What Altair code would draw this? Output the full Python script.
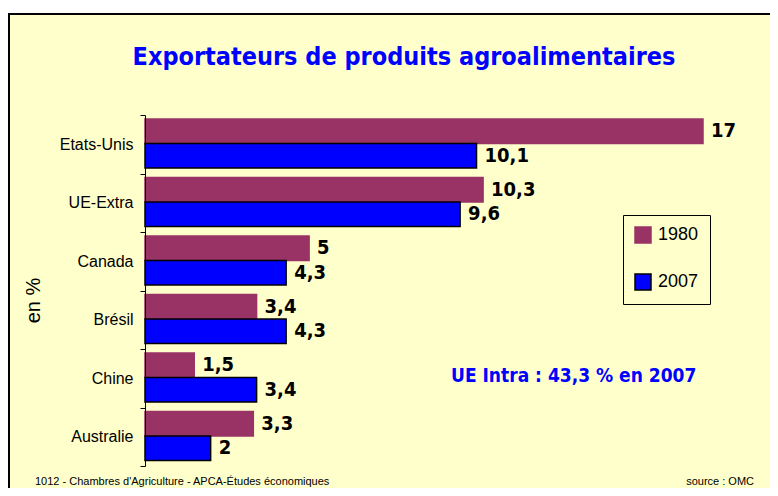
import altair as alt
import pandas as pd

countries = ["Etats-Unis", "UE-Extra", "Canada", "Brésil", "Chine", "Australie"]
years = ["1980", "2007"]
values_1980 = [17, 10.3, 5, 3.4, 1.5, 3.3]
values_2007 = [10.1, 9.6, 4.3, 4.3, 3.4, 2]
colors = ["#993366", "#0000FF"]
strokes = ["#993366", "#000000"]

title_text = "Exportateurs de produits agroalimentaires"
note_text = "UE Intra : 43,3  % en 2007"
footer_left = "1012 - Chambres d'Agriculture - APCA-Études économiques"
footer_right = "source : OMC"
y_title = "en %"

rows = []
for c, a, b in zip(countries, values_1980, values_2007):
    for yr, v in ((years[0], a), (years[1], b)):
        rows.append({"pays": c, "annee": yr, "valeur": v,
                     "label": (f"{v:g}").replace(".", ",")})
df = pd.DataFrame(rows)

NARROW = "'DejaVu Sans Condensed', 'Liberation Sans Narrow', 'Liberation Sans', sans-serif"
SANS = "Liberation Sans"

y_enc = alt.Y("pays:N", sort=countries,
              scale=alt.Scale(paddingInner=0, paddingOuter=0),
              axis=alt.Axis(title=y_title, titleAngle=-90, titleX=-112, titleY=185,
                            titleBaseline="middle", titleAlign="center",
                            titleFont=SANS, titleFontSize=20, titleFontWeight="normal",
                            titleColor="black", labelFont=SANS, labelFontSize=16,
                            labelColor="black", labelPadding=7, tickBand="extent",
                            tickSize=5, tickColor="black", domainColor="black",
                            domainWidth=1, tickWidth=1, grid=False, zindex=1))
yoff_enc = alt.YOffset("annee:N", scale=alt.Scale(domain=years, paddingInner=0,
                                                   paddingOuter=0.19, align=0.42))
x_enc = alt.X("valeur:Q", scale=alt.Scale(domain=[0, 17], nice=False), axis=None)

one = alt.Data(values=[{}])
frame = alt.Chart(one).mark_rect(fill="#FFFFCC").encode(
    x=alt.value(-137), x2=alt.value(625), y=alt.value(-102), y2=alt.value(373))
border_top = alt.Chart(one).mark_rule(color="black", strokeWidth=2).encode(
    x=alt.value(-137), x2=alt.value(625), y=alt.value(-101))
border_left = alt.Chart(one).mark_rule(color="black", strokeWidth=2).encode(
    x=alt.value(-136), y=alt.value(-102), y2=alt.value(373))

bars = alt.Chart(df).mark_bar(strokeWidth=1.5).encode(
    x=x_enc, y=y_enc, yOffset=yoff_enc,
    fill=alt.Fill("annee:N", scale=alt.Scale(domain=years, range=colors),
                  legend=alt.Legend(title=None, orient="none", legendX=478, legendY=100,
                                    strokeColor="black", padding=11, symbolType="square",
                                    symbolSize=256, symbolStrokeWidth=1.5,
                                    labelFont=SANS, labelFontSize=18, labelColor="black",
                                    rowPadding=25, labelOffset=6)),
    stroke=alt.Stroke("annee:N", scale=alt.Scale(domain=years, range=strokes)),
)

labels = alt.Chart(df).mark_text(
    align="left", baseline="middle", dx=8, font=NARROW, fontWeight="bold",
    fontSize=20, color="black"
).encode(x=x_enc, y=alt.Y("pays:N", sort=countries), yOffset=alt.YOffset("annee:N"),
         text="label:N")

def txt(t, x, y, **kw):
    return alt.Chart(alt.Data(values=[{"t": t}])).mark_text(**kw).encode(
        x=alt.value(x), y=alt.value(y), text="t:N")

title = txt(title_text, 259, -50, align="center", baseline="alphabetic", font=NARROW,
            fontWeight="bold", fontSize=25, color="#0000FF")
note = txt(note_text, 306, 267, align="left", baseline="alphabetic", font=NARROW,
           fontWeight="bold", fontSize=19, color="#0000FF")
foot_l = txt(footer_left, -110, 370, align="left", baseline="alphabetic", font=SANS,
             fontSize=11, color="black")
foot_r = txt(footer_right, 609, 370, align="right", baseline="alphabetic", font=SANS,
             fontSize=11, color="black")

chart = alt.layer(frame, border_top, border_left, bars, labels, title, note,
                  foot_l, foot_r).properties(
    width=558, height=351,
    autosize=alt.AutoSizeParams(type="none"),
    padding={"left": 137, "top": 107, "right": 67, "bottom": 22},
    background="white",
).configure_view(stroke=None)

chart.save("out.html", embed_options={"renderer": "svg", "actions": False})
